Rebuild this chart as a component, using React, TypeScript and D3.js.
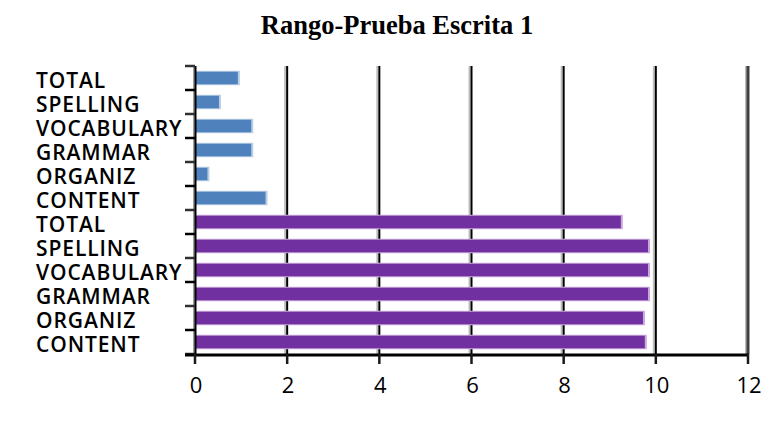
import React from "react";
import * as d3 from "d3";

// Category labels, top to bottom
const categories = [
  "TOTAL", "SPELLING", "VOCABULARY", "GRAMMAR", "ORGANIZ", "CONTENT",
  "TOTAL", "SPELLING", "VOCABULARY", "GRAMMAR", "ORGANIZ", "CONTENT",
];
// Which series each row belongs to (0 = lower range, 1 = upper range)
const seriesIndex = [0, 0, 0, 0, 0, 0, 1, 1, 1, 1, 1, 1];
const values = [0.93, 0.52, 1.22, 1.22, 0.27, 1.53, 9.24, 9.83, 9.83, 9.83, 9.72, 9.76];
const xTicks = [0, 2, 4, 6, 8, 10, 12];
const title = "Rango-Prueba Escrita 1";

const W = 776;
const H = 421;
const margin = { left: 195, right: 28, top: 66, bottom: 67 };

const fills = ["#4F81BD", "#7030A0"];
const edges = ["#B9CDE5", "#C9A7DE"];

export default function App() {
  const x = d3.scaleLinear().domain([0, 12]).range([margin.left, W - margin.right]);
  const y = d3
    .scaleBand<number>()
    .domain(d3.range(categories.length))
    .range([margin.top, H - margin.bottom])
    .paddingInner(0.48)
    .paddingOuter(0.24);
  const bottom = H - margin.bottom;
  const boundaries = d3
    .range(categories.length + 1)
    .map((i) => margin.top + i * ((bottom - margin.top) / categories.length));

  return (
    <svg width={W} height={H} style={{ position: "absolute", left: 0, top: 0, background: "#fff" }}>
      <text
        x={397}
        y={34}
        textAnchor="middle"
        fontFamily="Liberation Serif, serif"
        fontWeight="bold"
        fontSize={26.5}
        fill="#000"
      >
        {title}
      </text>

      {/* vertical gridlines */}
      {xTicks.slice(1).map((t) => (
        <g key={"g" + t}>
          <line x1={x(t) - 2} x2={x(t) - 2} y1={margin.top} y2={bottom} stroke="#bdbdbd" strokeWidth={2} />
          <line
            x1={x(t)}
            x2={x(t)}
            y1={margin.top}
            y2={bottom}
            stroke={t === 12 ? "#404040" : "#000"}
            strokeWidth={t === 12 ? 3 : 2}
          />
        </g>
      ))}

      {/* bars */}
      {values.map((v, i) => {
        const s = seriesIndex[i];
        const by = y(i)!;
        const bh = y.bandwidth();
        return (
          <g key={"b" + i}>
            <rect x={x(0)} y={by - 1} width={x(v) - x(0) + 2} height={bh + 2} fill={edges[s]} />
            <rect x={x(0)} y={by} width={x(v) - x(0)} height={bh} fill={fills[s]} />
          </g>
        );
      })}

      {/* y axis */}
      <line x1={x(0) - 1} x2={x(0) - 1} y1={margin.top} y2={bottom} stroke="#7f7f7f" strokeWidth={1.5} />
      <line x1={x(0) + 0.5} x2={x(0) + 0.5} y1={margin.top} y2={bottom + 1} stroke="#000" strokeWidth={2} />
      {boundaries.map((b, i) => (
        <line
          key={"yt" + i}
          x1={x(0) - 10}
          x2={x(0)}
          y1={b}
          y2={b}
          stroke={i % 2 ? "#000" : "#303030"}
          strokeWidth={2.5}
        />
      ))}

      {/* x axis */}
      <line x1={x(0) - 10} x2={x(12) + 1} y1={bottom + 1} y2={bottom + 1} stroke="#000" strokeWidth={3} />
      {xTicks.map((t) => (
        <line key={"xt" + t} x1={x(t)} x2={x(t)} y1={bottom} y2={bottom + 10} stroke="#1a1a1a" strokeWidth={2.5} />
      ))}
      {xTicks.map((t) => (
        <text
          key={"xl" + t}
          x={x(t) + 1}
          y={393}
          textAnchor="middle"
          fontFamily="Open Sans, sans-serif"
          fontSize={22}
          fill="#000"
        >
          {t}
        </text>
      ))}

      {/* category labels */}
      {categories.map((c, i) => (
        <text
          key={"yl" + i}
          x={36}
          y={y(i)! + y.bandwidth() / 2 + 10}
          fontFamily="Open Sans, sans-serif"
          fontWeight={600}
          fontSize={21}
          letterSpacing={0.9}
          fill="#000"
        >
          {c}
        </text>
      ))}
    </svg>
  );
}
